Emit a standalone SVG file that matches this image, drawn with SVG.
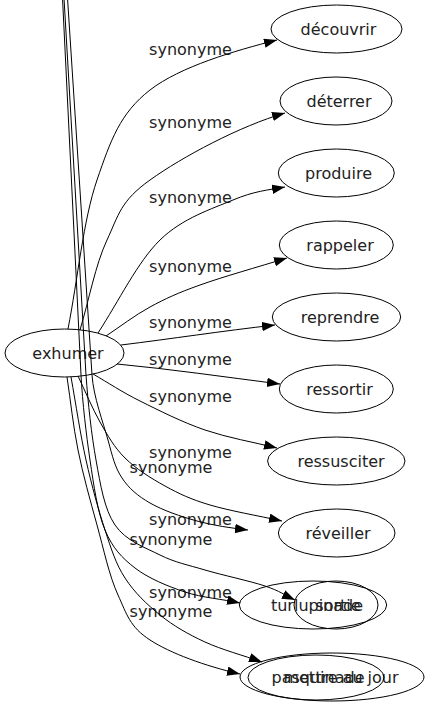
<svg xmlns="http://www.w3.org/2000/svg" width="429" height="707" viewBox="0 0 429 707">
<style>
.node ellipse{fill:none;stroke:#000;stroke-width:1}
text{font-family:"DejaVu Sans",sans-serif;font-size:16px;fill:#222;text-anchor:middle}
.edges path{fill:none;stroke:#000;stroke-width:1;marker-end:url(#arr)}
.edges path.noarr{marker-end:none}
</style>
<defs>
<marker id="arr" markerUnits="userSpaceOnUse" markerWidth="14" markerHeight="10" refX="13" refY="4.7" orient="auto">
<path d="M0,0 L13,4.7 L0,9.4 z" fill="#000"/>
</marker>
</defs>
<rect width="429" height="707" fill="#fff"/>
<g id="nodes">
<g id="n-exhumer" class="node"><ellipse cx="64.5" cy="353" rx="59.5" ry="24"/><text x="68" y="359">exhumer</text></g>
<g id="n-decouvrir" class="node"><ellipse cx="336.5" cy="29" rx="65.5" ry="24"/><text x="338.5" y="35">découvrir</text></g>
<g id="n-deterrer" class="node"><ellipse cx="336" cy="101" rx="56" ry="24"/><text x="339" y="107">déterrer</text></g>
<g id="n-produire" class="node"><ellipse cx="336.3" cy="173" rx="58" ry="24"/><text x="338.5" y="179">produire</text></g>
<g id="n-rappeler" class="node"><ellipse cx="336.3" cy="245" rx="57" ry="24"/><text x="340" y="251">rappeler</text></g>
<g id="n-reprendre" class="node"><ellipse cx="336.5" cy="317" rx="64.2" ry="24"/><text x="340" y="323">reprendre</text></g>
<g id="n-ressortir" class="node"><ellipse cx="336.3" cy="389" rx="57" ry="24"/><text x="339.5" y="395">ressortir</text></g>
<g id="n-ressusciter" class="node"><ellipse cx="336.3" cy="461" rx="68.7" ry="24"/><text x="341" y="467">ressusciter</text></g>
<g id="n-reveiller" class="node"><ellipse cx="336.7" cy="533" rx="58.3" ry="24"/><text x="338" y="539">réveiller</text></g>
<g id="n-turlupinade" class="node"><ellipse cx="313" cy="605" rx="73.7" ry="24"/><text x="317" y="611">turlupinade</text></g>
<g id="n-sortie" class="node"><ellipse cx="336" cy="605" rx="42" ry="24"/><text x="338" y="611">sortie</text></g>
<g id="n-mettre" class="node"><ellipse cx="332" cy="677" rx="92" ry="24"/><text x="341" y="683">mettre au jour</text></g>
<g id="n-pasquinade" class="node"><ellipse cx="316" cy="677.5" rx="68" ry="22.5"/><text x="318" y="683">pasquinade</text></g>
</g>
<g id="labels">
<text x="190.5" y="55">synonyme</text>
<text x="190.5" y="128">synonyme</text>
<text x="190.5" y="203">synonyme</text>
<text x="190.5" y="272">synonyme</text>
<text x="190.5" y="328">synonyme</text>
<text x="190.5" y="365">synonyme</text>
<text x="190.5" y="402">synonyme</text>
<text x="190.5" y="458">synonyme</text>
<text x="171" y="473">synonyme</text>
<text x="190.5" y="525">synonyme</text>
<text x="171" y="545">synonyme</text>
<text x="190.5" y="598">synonyme</text>
<text x="171" y="617">synonyme</text>
</g>
<g id="edges" class="edges">
<path id="e-decouvrir" d="M68,329 C77.7,279.3 83.3,219.8 97,180 C110.7,140.2 120,113.3 150,90 C180,66.7 234.7,50.7 277,40"/>
<path id="e-deterrer" d="M80,330 C89,300 95.3,265 107,240 C118.7,215 120.3,201.2 150,180 C182,157 240,126 285,113"/>
<path id="e-produire" d="M98,333 C118.7,301.3 137.5,262 160,240 C182.5,218 212.2,208.8 233,200 C253.8,191.2 268,190 285,187"/>
<path id="e-rappeler" d="M106,336 C120.7,326.3 134.3,315.5 150,307 C165.7,298.5 177.2,293.2 200,285 C222.8,276.8 258,267 287,258"/>
<path id="e-reprendre" d="M121,345 C170,339 222,331 275,325"/>
<path id="e-ressortir" d="M117,364 C170,369 225,377 280,384"/>
<path id="e-ressusciter" d="M93,374 C108.7,383 121.3,391.7 140,401 C158.7,410.3 182.2,422.2 205,430 C227.8,437.8 253,442 277,448"/>
<path id="e-reveiller" d="M78,376 C85.3,391.3 92.2,408.3 100,422 C107.8,435.7 114.2,447.3 125,458 C135.8,468.7 150.8,478.2 165,486 C179.2,493.8 190.5,499.2 210,505 C229.5,510.8 258,515.7 282,521"/>
<path id="e-mettre" d="M67,377 C70.7,401.3 73,425.3 78,450 C83,474.7 90.3,500.8 97,525 C103.7,549.2 109.2,575.8 118,595 C126.8,614.2 129.7,626.8 150,640 C170.3,653.2 205,666 240,674"/>
<path id="e-pasquinade" d="M71,377 C76,404.7 80.3,434.5 86,460 C91.7,485.5 98.5,510.3 105,530 C111.5,549.7 115.8,563.8 125,578 C134.2,592.2 146.7,604.3 160,615 C173.3,625.7 188,634.2 205,642 C222,649.8 243,655.3 262,662"/>
<path id="e-turlupinade" d="M62.5,-2 L81,375 C82.5,403 86.2,434.2 90,460 C93.8,485.8 97.5,512 105,530 C112.5,548 121.7,557.7 135,568 C148.3,578.3 167.5,586.2 185,592 C202.5,597.8 222,599 240,603"/>
<path id="e-sortie" d="M64,-2 L86,375 C88,403 91.5,435 96,460 C100.5,485 104.3,509.2 115,525 C125.7,540.8 145,547.5 160,555 C175,562.5 187.5,564.8 205,570 C222.5,575.2 250,581 265,586 C280,591 285,595.3 295,600"/>
<path id="e-empty" d="M67.5,-2 L92,375 C93.5,397 103.3,422.8 108,440 C112.7,457.2 115,467.5 122,478 C129,488.5 137.5,495.8 150,503 C162.5,510.2 180.7,516.5 197,521 C213.3,525.5 231,528 248,530"/>
</g>
</svg>
